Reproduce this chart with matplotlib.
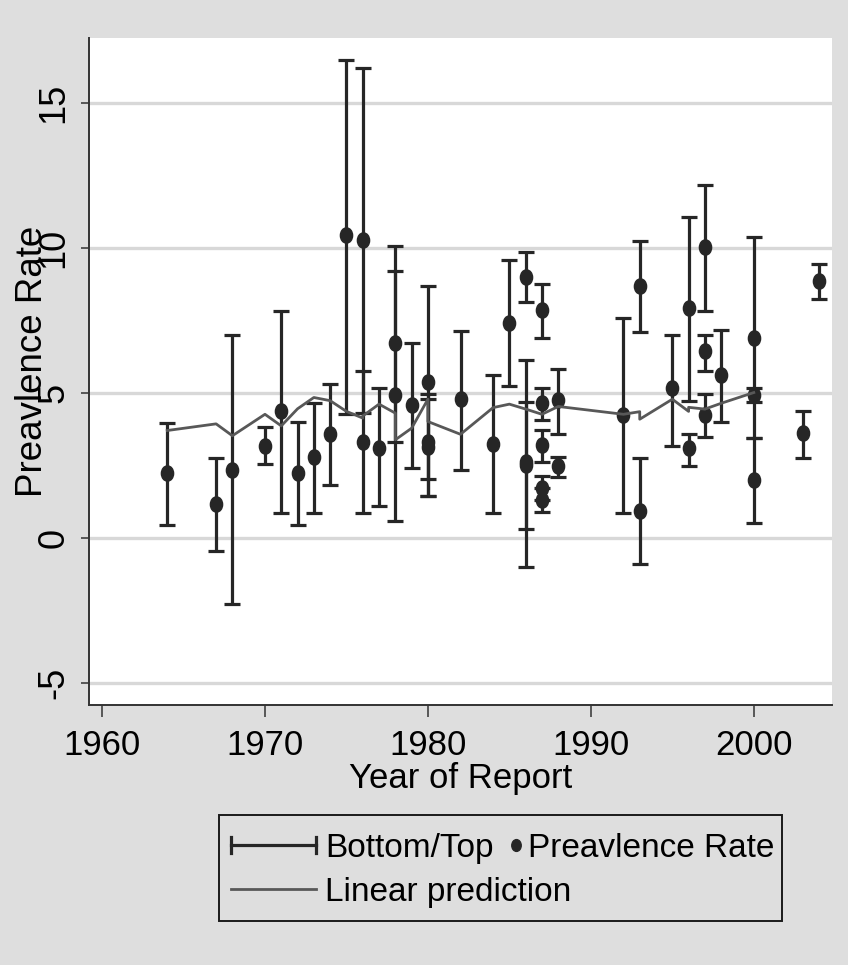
import numpy as np
import matplotlib
matplotlib.use("Agg")
import matplotlib.pyplot as plt
from matplotlib.lines import Line2D
from matplotlib.patches import Rectangle
from matplotlib.markers import MarkerStyle
from matplotlib.transforms import Affine2D

plt.rcParams['font.family'] = ['Liberation Sans', 'DejaVu Sans']
plt.rcParams['axes.unicode_minus'] = False

# study estimates: year, prevalence rate, bottom / top of interval
year = [1964, 1967, 1968, 1970, 1971, 1972, 1973, 1974, 1975, 1976, 1976, 1977,
        1978, 1978, 1979, 1980, 1980, 1980, 1982, 1984, 1985, 1986, 1986, 1986,
        1987, 1987, 1987, 1987, 1987, 1988, 1988, 1992, 1993, 1993, 1995, 1996,
        1996, 1997, 1997, 1997, 1998, 2000, 2000, 2000, 2003, 2004]
rate = [2.23, 1.15, 2.35, 3.18, 4.38, 2.23, 2.77, 3.58, 10.43, 10.28, 3.31, 3.11,
        6.72, 4.92, 4.58, 5.38, 3.12, 3.3, 4.8, 3.23, 7.42, 9.0, 2.6, 2.5,
        7.85, 4.65, 3.2, 1.72, 1.31, 4.74, 2.49, 4.23, 8.69, 0.92, 5.15, 7.92,
        3.08, 10.03, 6.43, 4.23, 5.62, 6.89, 4.92, 2.0, 3.62, 8.85]
bottom = [0.43, -0.46, -2.28, 2.54, 0.85, 0.43, 0.85, 1.82, 4.28, 4.3, 0.85, 1.08,
          3.31, 0.58, 2.4, 2.03, 1.43, 1.43, 2.35, 0.85, 5.23, 8.12, -1.0, 0.31,
          6.89, 4.08, 2.62, 1.31, 0.89, 3.57, 2.08, 0.85, 7.1, -0.92, 3.15, 4.72,
          2.49, 7.82, 5.77, 3.46, 4.0, 3.45, 4.69, 0.51, 2.74, 8.25]
top = [3.97, 2.74, 7.0, 3.82, 7.82, 4.0, 4.65, 5.31, 16.5, 16.2, 5.74, 5.15,
       10.08, 9.22, 6.72, 8.69, 4.95, 4.8, 7.15, 5.6, 9.57, 9.85, 6.15, 4.69,
       8.74, 5.15, 3.72, 2.12, 1.72, 5.82, 2.8, 7.58, 10.23, 2.74, 7.0, 11.08,
       3.57, 12.18, 6.98, 4.95, 7.18, 10.37, 5.18, 3.45, 4.38, 9.43]

# linear prediction, in year order
pred_year = [1964, 1967, 1968, 1970, 1971, 1972, 1973, 1974, 1975, 1976, 1976,
             1977, 1978, 1978, 1979, 1980, 1980, 1982, 1984, 1985, 1986, 1987,
             1988, 1992, 1993, 1993, 1995, 1996, 1996, 1997, 1998, 2000]
pred_rate = [3.7, 3.93, 3.52, 4.26, 3.86, 4.45, 4.84, 4.73, 4.36, 4.13, 4.2,
             4.61, 4.3, 3.38, 3.78, 4.78, 4.01, 3.57, 4.49, 4.61, 4.44, 4.26,
             4.53, 4.26, 4.35, 4.09, 4.78, 4.36, 4.5, 4.44, 4.64, 5.01]

y_ticks = [-5, 0, 5, 10, 15]
x_ticks = [1960, 1970, 1980, 1990, 2000]

W, H = 848, 965
BG = '#dedede'
DARK = '#262626'
PRED = '#585858'
FS = 25

fig = plt.figure(figsize=(W / 100, H / 100), dpi=100)
fig.patch.set_facecolor(BG)
ax = fig.add_axes([89 / W, 1 - 705 / H, (832 - 89) / W, (705 - 37.5) / H])
ax.set_facecolor('white')

rate_a = np.array(rate)
yerr = [rate_a - np.array(bottom), np.array(top) - rate_a]
ax.errorbar(year, rate, yerr=yerr, fmt='none', ecolor=DARK, elinewidth=2.3,
            capsize=5.5, capthick=2.3, zorder=3)
dot = MarkerStyle('o', transform=Affine2D().scale(0.8, 1.0))
ax.plot(year, rate, ls='none', marker=dot, ms=11, color=DARK, zorder=4)
ax.plot(pred_year, pred_rate, color=PRED, lw=2, zorder=5)

ax.set_xlim(1959.2, 2004.8)
ax.set_ylim(-5.77, 17.26)
ax.set_xticks(x_ticks)
ax.set_yticks(y_ticks)
ax.yaxis.grid(True, color='#d8d8d8', lw=2.4)
ax.set_axisbelow(True)

for s in ['top', 'right']:
    ax.spines[s].set_visible(False)
for s in ['left', 'bottom']:
    ax.spines[s].set_color('#333333')
    ax.spines[s].set_linewidth(1.4)

ax.tick_params(axis='x', length=8.5, width=1.1, color='#333333', pad=9, labelsize=FS)
ax.tick_params(axis='y', length=5.5, width=1.1, color='#333333', pad=7, labelsize=FS + 1)
for lab in ax.get_yticklabels():
    lab.set_rotation(90)
    lab.set_va('center')

fig.text(33 / W, 1 - 361.5 / H, 'Preavlence Rate', rotation=90, ha='center',
         va='center', fontsize=FS + 1.5)
fig.text(461 / W, 1 - 788 / H, 'Year of Report', ha='center', va='baseline',
         fontsize=FS)


# legend drawn by hand so the dot entry can sit tight like the original
def fx(x):
    return x / W


def fy(y):
    return 1 - y / H


fig.add_artist(Rectangle((fx(219), fy(921)), fx(782) - fx(219), fy(815) - fy(921),
                         transform=fig.transFigure, facecolor='none',
                         edgecolor='#1a1a1a', lw=1.4))
r1, r2 = 845, 889
fig.add_artist(Line2D([fx(231), fx(316)], [fy(r1), fy(r1)], color=DARK, lw=2.3,
                      transform=fig.transFigure))
for cx in (231, 316):
    fig.add_artist(Line2D([fx(cx), fx(cx)], [fy(r1 - 8), fy(r1 + 8)], color=DARK,
                          lw=2.3, transform=fig.transFigure))
fig.add_artist(Line2D([fx(516)], [fy(r1)], ls='none', marker=dot, ms=8.5, color=DARK,
                      transform=fig.transFigure))
fig.add_artist(Line2D([fx(231), fx(316)], [fy(r2), fy(r2)], color=PRED, lw=2,
                      transform=fig.transFigure))
fig.text(fx(325), fy(r1), 'Bottom/Top', va='center_baseline', ha='left', fontsize=24)
fig.text(fx(528), fy(r1), 'Preavlence Rate', va='center_baseline', ha='left', fontsize=24)
fig.text(fx(325), fy(r2), 'Linear prediction', va='center_baseline', ha='left', fontsize=24)

fig.savefig('out.png', dpi=100, facecolor=fig.get_facecolor())
